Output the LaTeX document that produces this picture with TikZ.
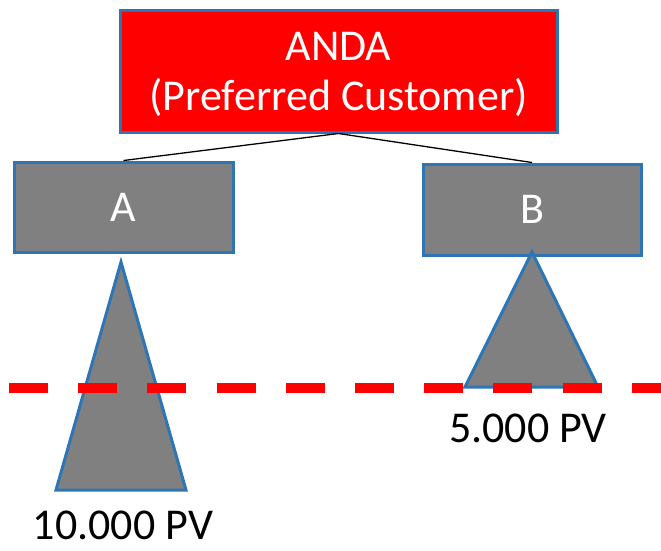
\documentclass[tikz,border=0pt]{standalone}
\usepackage{fontspec}
\setmainfont{Carlito}
\usepackage{tikz}
\usetikzlibrary{calc}
\definecolor{edgeblue}{RGB}{46,117,182}

\begin{document}
\begin{tikzpicture}[x=1pt, y=-1pt,
    box/.style={draw=edgeblue, line width=3pt, rectangle, inner sep=0pt, text=white,
                font=\fontsize{44}{50}\selectfont},
    tri/.style={draw=edgeblue, line width=3pt, fill=gray, line join=miter},
    cut/.style={draw=red, line width=10pt, dash pattern=on 39pt off 30.2pt},
    pv/.style={anchor=base, inner sep=0pt, font=\fontsize{44}{50}\selectfont}]
  \useasboundingbox (0,0) rectangle (661,550);

  \node [box,fill=red,minimum width=437pt,minimum height=122pt] (anda) at (338.5, 71) {};
  \node [text=white,align=center,inner sep=0pt,font=\fontsize{44}{50}\selectfont,anchor=base] (andatxt) at (338.5, 110) {ANDA\\(Preferred Customer)};

  \node [box,fill=gray,minimum width=219pt,minimum height=90pt] (a) at (123.5, 207) {A};
  \node [box,fill=gray,minimum width=218pt,minimum height=91pt] (b) at (532, 209.5) {B};
  \draw [line width=1.3pt] (anda.south) -- (a.north);
  \draw [line width=1.3pt] (anda.south) -- (b.north);

  \draw [tri] (121,262) -- (186,490) -- (56,490) -- cycle;
  \draw [tri] (532,252) -- (598,387) -- (465,387) -- cycle;

  \coordinate (cutL) at (9,388);
  \coordinate (cutR) at (661,388);
  \draw [cut] (cutL) -- (cutR);

  \node [pv] (pva) at (123, 539) {10.000 PV};
  \node [pv] (pvb) at (528, 442) {5.000 PV};
\end{tikzpicture}
\end{document}
